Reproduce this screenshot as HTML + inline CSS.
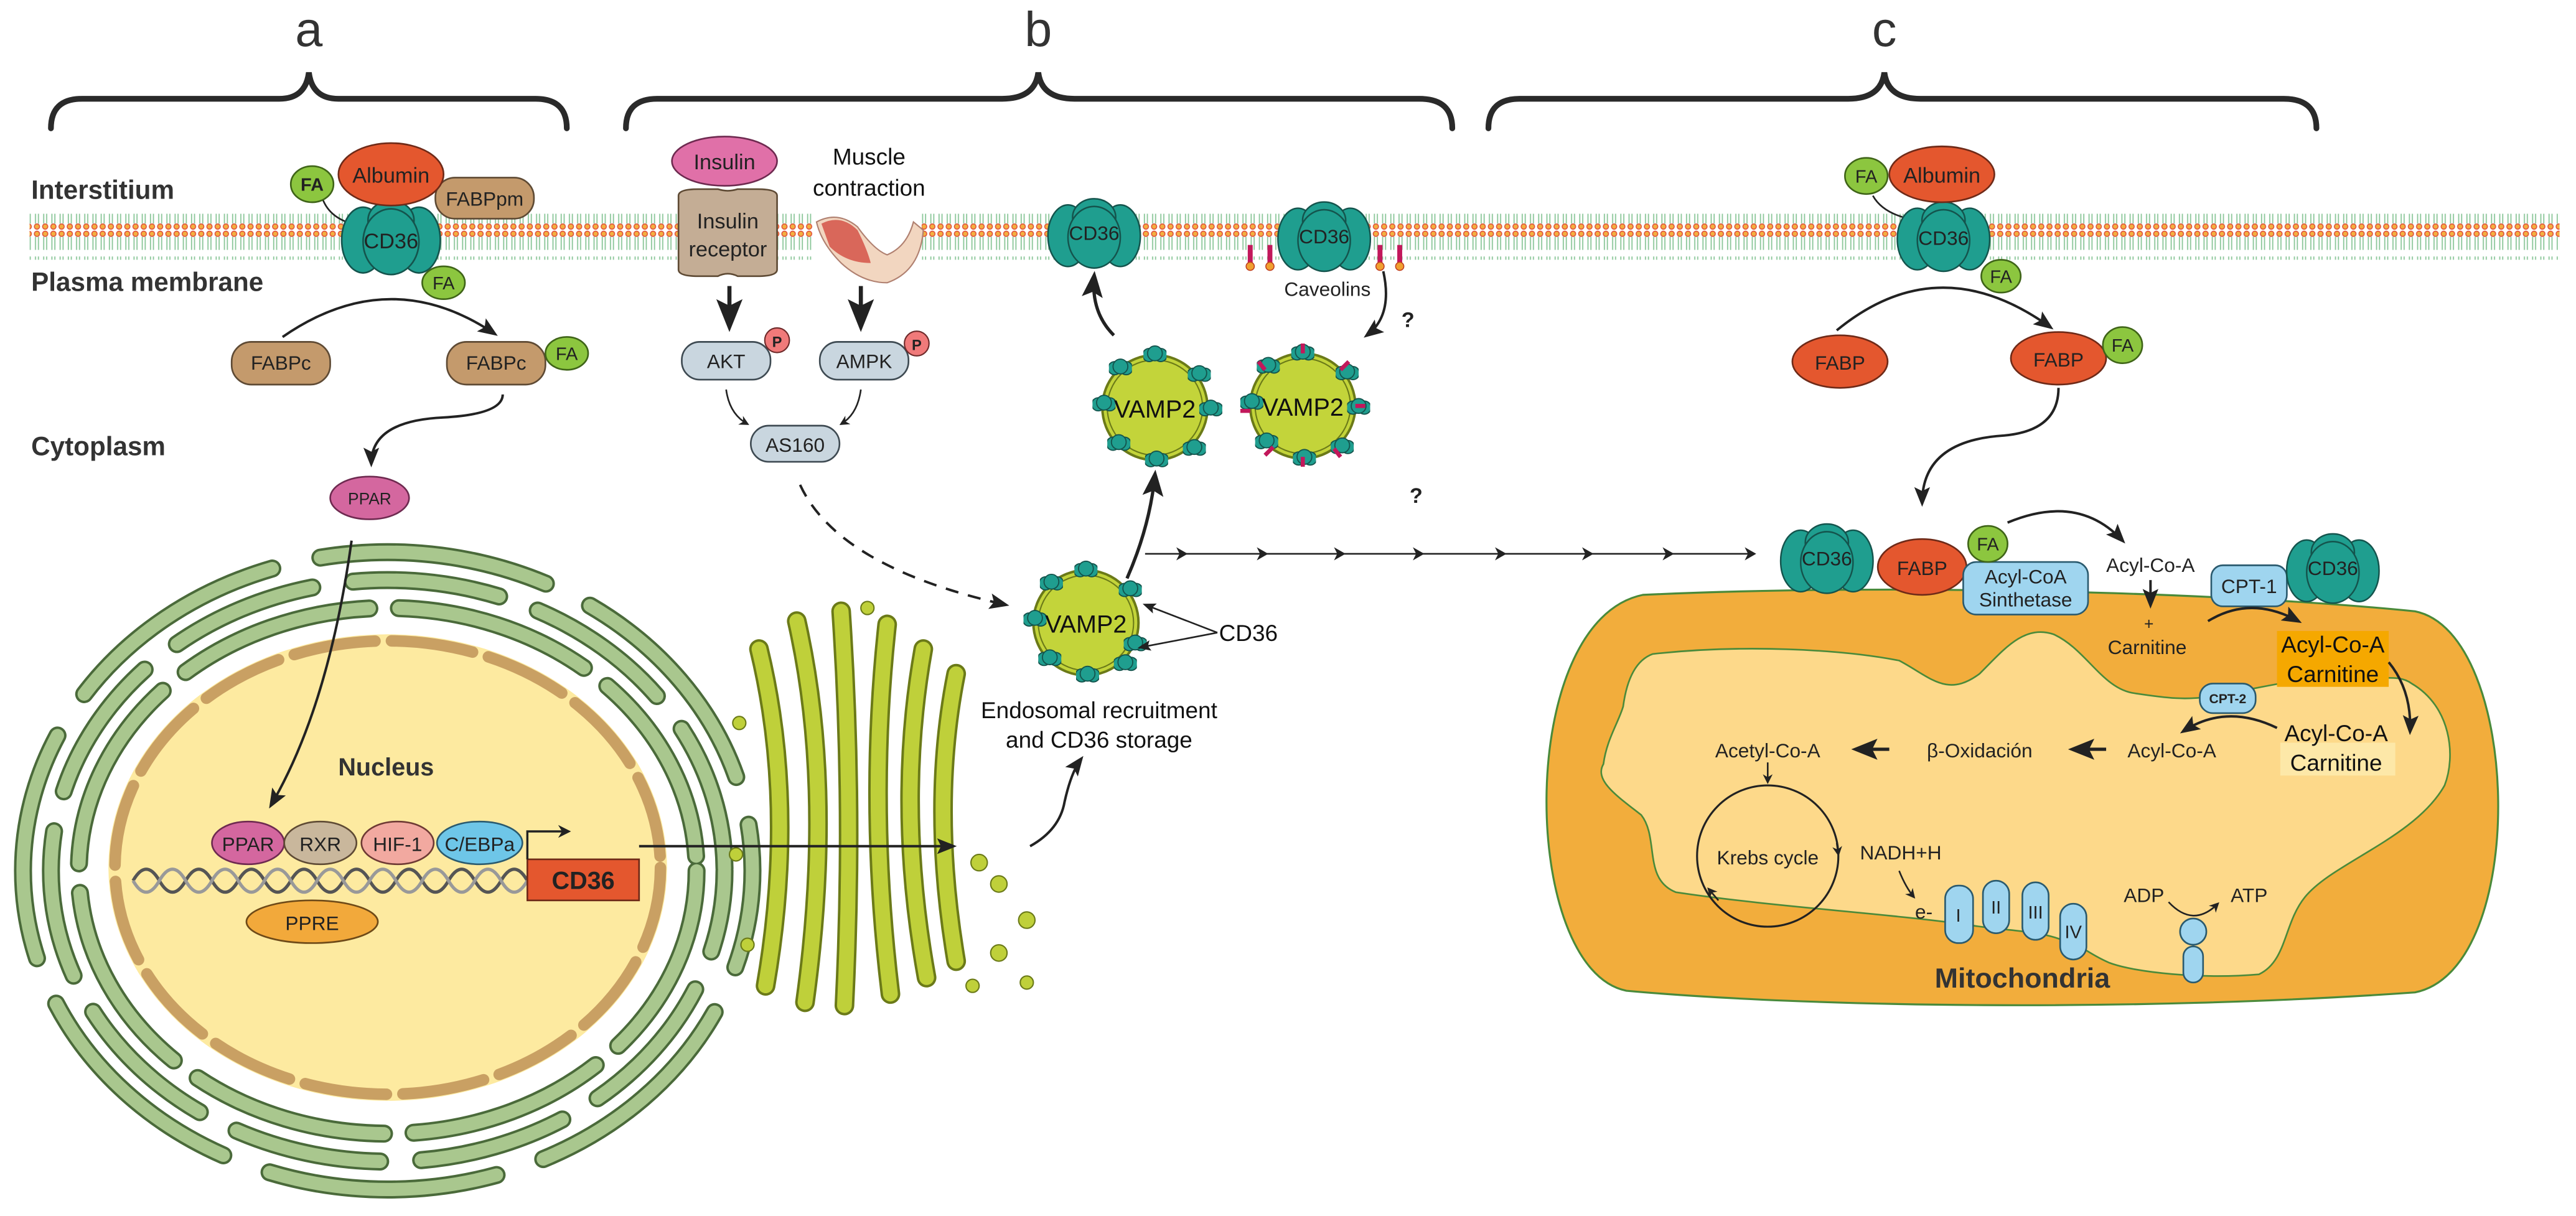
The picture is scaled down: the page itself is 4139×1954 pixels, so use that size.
<!DOCTYPE html>
<html><head><meta charset="utf-8"><style>
html,body{margin:0;padding:0;background:#fff;}
svg{display:block;}
text{font-family:"Liberation Sans",sans-serif;}
</style></head><body>
<svg width="4139" height="1954" viewBox="0 0 1568 740" xmlns="http://www.w3.org/2000/svg">
<defs>
<pattern id="mem" x="0" y="0" width="5" height="28" patternUnits="userSpaceOnUse">
<line x1="1.6" y1="4" x2="1.6" y2="12" stroke="#8cc79a" stroke-width="0.7"/>
<line x1="3.4" y1="4" x2="3.4" y2="12" stroke="#8cc79a" stroke-width="0.7"/>
<line x1="1.6" y1="16" x2="1.6" y2="24" stroke="#8cc79a" stroke-width="0.7"/>
<line x1="3.4" y1="16" x2="3.4" y2="24" stroke="#8cc79a" stroke-width="0.7"/>
<circle cx="2.5" cy="2.2" r="1.6" fill="#f3b040" stroke="#e0503a" stroke-width="0.6"/>
<circle cx="2.5" cy="25.8" r="1.6" fill="#f3b040" stroke="#e0503a" stroke-width="0.6"/>
</pattern>
<symbol id="cd36" viewBox="-32 -24 64 48">
<ellipse cx="-17" cy="2" rx="13" ry="20" fill="#1f9e8f" stroke="#14544d" stroke-width="1"/>
<ellipse cx="17" cy="2" rx="13" ry="20" fill="#1f9e8f" stroke="#14544d" stroke-width="1"/>
<ellipse cx="0" cy="-10" rx="14" ry="12" fill="#1f9e8f" stroke="#14544d" stroke-width="1"/>
<ellipse cx="0" cy="3" rx="17" ry="20" fill="#1f9e8f" stroke="#14544d" stroke-width="1"/>
</symbol>
<symbol id="bead" viewBox="-7 -6 14 12">
<circle cx="-3.5" cy="0" r="4" fill="#1f9e8f" stroke="#14544d" stroke-width="0.7"/>
<circle cx="3.5" cy="0" r="4" fill="#1f9e8f" stroke="#14544d" stroke-width="0.7"/>
<circle cx="0" cy="-1" r="4.5" fill="#1f9e8f" stroke="#14544d" stroke-width="0.7"/>
</symbol>
<marker id="ah" viewBox="0 0 10 10" refX="8" refY="5" markerWidth="6" markerHeight="6" orient="auto"><path d="M0,0 L10,5 L0,10 L3,5 Z" fill="#222"/></marker>
<marker id="ahs" viewBox="0 0 10 10" refX="8" refY="5" markerWidth="8" markerHeight="8" orient="auto"><path d="M0,1 L10,5 L0,9 L2,5 Z" fill="#222"/></marker>
</defs>

<!-- brackets -->
<g fill="none" stroke="#2a2a2a" stroke-width="3.5" stroke-linecap="round">
<path d="M31,78 Q31,60 50,60 L170,60 Q186,60 188,44 Q190,60 206,60 L326,60 Q345,60 345,78"/>
<path d="M381,78 Q381,60 400,60 L610,60 Q630,60 632,44 Q634,60 654,60 L864,60 Q884,60 884,78"/>
<path d="M906,78 Q906,60 925,60 L1125,60 Q1145,60 1147,44 Q1149,60 1169,60 L1390,60 Q1410,60 1410,78"/>
</g>
<text x="188" y="28" font-size="30" text-anchor="middle" fill="#333">a</text>
<text x="632" y="28" font-size="30" text-anchor="middle" fill="#333">b</text>
<text x="1147" y="28" font-size="30" text-anchor="middle" fill="#333">c</text>

<!-- membrane -->
<rect x="18" y="130" width="477" height="28" fill="url(#mem)"/>
<rect x="561" y="130" width="997" height="28" fill="url(#mem)"/>

<text x="19" y="121" font-size="16" font-weight="bold" fill="#333">Interstitium</text>
<text x="19" y="177" font-size="16" font-weight="bold" fill="#333">Plasma membrane</text>
<text x="19" y="277" font-size="16" font-weight="bold" fill="#333">Cytoplasm</text>

<!-- section a -->
<path d="M196,120 Q200,132 214,136" fill="none" stroke="#222" stroke-width="1"/>
<use href="#cd36" x="206" y="120" width="64" height="48"/>
<text x="238" y="151" font-size="13" text-anchor="middle" fill="#222">CD36</text>
<rect x="265" y="108" width="60" height="25" rx="12" fill="#c49a6c" stroke="#5e4a34" stroke-width="1"/>
<text x="295" y="125" font-size="12" text-anchor="middle" fill="#222">FABPpm</text>
<ellipse cx="238" cy="106" rx="32" ry="19" fill="#e4572e" stroke="#6e2a18" stroke-width="1"/>
<text x="238" y="111" font-size="13" text-anchor="middle" fill="#222">Albumin</text>
<ellipse cx="190" cy="112" rx="13" ry="11" fill="#8cc63f" stroke="#3f6418" stroke-width="1"/>
<text x="190" y="116" font-size="11" font-weight="bold" text-anchor="middle" fill="#222">FA</text>
<ellipse cx="270" cy="172" rx="13" ry="10" fill="#8cc63f" stroke="#3f6418" stroke-width="1"/>
<text x="270" y="176" font-size="11" text-anchor="middle" fill="#222">FA</text>
<path d="M172,205 Q237,160 301,203" fill="none" stroke="#222" stroke-width="1.5" marker-end="url(#ahs)"/>
<rect x="141" y="208" width="60" height="26" rx="12" fill="#c49a6c" stroke="#5e4a34" stroke-width="1"/>
<text x="171" y="225" font-size="12" text-anchor="middle" fill="#222">FABPc</text>
<rect x="272" y="208" width="60" height="26" rx="12" fill="#c49a6c" stroke="#5e4a34" stroke-width="1"/>
<text x="302" y="225" font-size="12" text-anchor="middle" fill="#222">FABPc</text>
<ellipse cx="345" cy="215" rx="13" ry="10" fill="#8cc63f" stroke="#3f6418" stroke-width="1"/>
<text x="345" y="219" font-size="11" text-anchor="middle" fill="#222">FA</text>
<path d="M306,240 Q306,252 270,254 Q226,256 226,282" fill="none" stroke="#222" stroke-width="1.5" marker-end="url(#ahs)"/>
<ellipse cx="225" cy="303" rx="24" ry="13" fill="#d4679f" stroke="#6e2a50" stroke-width="1"/>
<text x="225" y="307" font-size="10" text-anchor="middle" fill="#222">PPAR</text>

<!-- ER -->
<g fill="none" stroke-linecap="round">
<g stroke="#4a6a3a" stroke-width="11">
<ellipse cx="236" cy="530" rx="188" ry="160" stroke-dasharray="120 18"/>
<ellipse cx="236" cy="530" rx="205" ry="177" stroke-dasharray="90 25" stroke-dashoffset="40"/>
<ellipse cx="236" cy="530" rx="222" ry="194" stroke-dasharray="140 30" stroke-dashoffset="80"/>
</g>
<g stroke="#a9c78e" stroke-width="8">
<ellipse cx="236" cy="530" rx="188" ry="160" stroke-dasharray="120 18"/>
<ellipse cx="236" cy="530" rx="205" ry="177" stroke-dasharray="90 25" stroke-dashoffset="40"/>
<ellipse cx="236" cy="530" rx="222" ry="194" stroke-dasharray="140 30" stroke-dashoffset="80"/>
</g>
</g>
<!-- nucleus -->
<ellipse cx="236" cy="528" rx="170" ry="142" fill="#fdeaa0"/>
<ellipse cx="236" cy="528" rx="166" ry="138" fill="none" stroke="#c9a063" stroke-width="7" stroke-dasharray="50 10" stroke-linecap="round"/>
<text x="235" y="472" font-size="15" font-weight="bold" text-anchor="middle" fill="#333">Nucleus</text>
<path d="M214,329 Q200,430 165,490" fill="none" stroke="#222" stroke-width="1.5" marker-end="url(#ahs)"/>
<path d="M81,536 q8,-14 16,0 t16,0 t16,0 t16,0 t16,0 t16,0 t16,0 t16,0 t16,0 t16,0 t16,0 t16,0 t16,0 t16,0 t16,0" fill="none" stroke="#555" stroke-width="2"/>
<path d="M81,536 q8,14 16,0 t16,0 t16,0 t16,0 t16,0 t16,0 t16,0 t16,0 t16,0 t16,0 t16,0 t16,0 t16,0 t16,0 t16,0" fill="none" stroke="#999" stroke-width="2"/>
<ellipse cx="151" cy="513" rx="22" ry="13" fill="#d4679f" stroke="#6e2a50" stroke-width="1"/>
<text x="151" y="518" font-size="12" text-anchor="middle" fill="#222">PPAR</text>
<ellipse cx="195" cy="513" rx="22" ry="13" fill="#c9b79c" stroke="#5e4a34" stroke-width="1"/>
<text x="195" y="518" font-size="12" text-anchor="middle" fill="#222">RXR</text>
<ellipse cx="242" cy="513" rx="22" ry="13" fill="#f2a9a0" stroke="#6e3a34" stroke-width="1"/>
<text x="242" y="518" font-size="12" text-anchor="middle" fill="#222">HIF-1</text>
<ellipse cx="292" cy="513" rx="26" ry="13" fill="#6ec6e8" stroke="#2a5a6e" stroke-width="1"/>
<text x="292" y="518" font-size="12" text-anchor="middle" fill="#222">C/EBPa</text>
<ellipse cx="190" cy="561" rx="40" ry="13" fill="#f2a93b" stroke="#6e4a18" stroke-width="1"/>
<text x="190" y="566" font-size="12" text-anchor="middle" fill="#222">PPRE</text>
<rect x="321" y="523" width="68" height="25" fill="#e4572e" stroke="#6e2a18" stroke-width="1"/>
<text x="355" y="541" font-size="15" font-weight="bold" text-anchor="middle" fill="#222">CD36</text>
<path d="M321,523 L321,506 L346,506" fill="none" stroke="#222" stroke-width="1.3" marker-end="url(#ah)"/>

<!-- Golgi -->
<g fill="none" stroke-linecap="round">
<g stroke="#6b7a18" stroke-width="12">
<path d="M462,395 Q485,490 466,600"/><path d="M485,378 Q508,480 490,610"/><path d="M512,372 Q520,490 514,612"/><path d="M540,380 Q528,490 542,605"/><path d="M562,395 Q545,490 564,595"/><path d="M582,410 Q566,490 582,585"/>
</g>
<g stroke="#bfd03a" stroke-width="9">
<path d="M462,395 Q485,490 466,600"/><path d="M485,378 Q508,480 490,610"/><path d="M512,372 Q520,490 514,612"/><path d="M540,380 Q528,490 542,605"/><path d="M562,395 Q545,490 564,595"/><path d="M582,410 Q566,490 582,585"/>
</g>
</g>
<g fill="#bfd03a" stroke="#6b7a18" stroke-width="0.8">
<circle cx="528" cy="370" r="4"/><circle cx="450" cy="440" r="4"/><circle cx="448" cy="520" r="4"/><circle cx="455" cy="575" r="4"/><circle cx="596" cy="525" r="5"/><circle cx="608" cy="538" r="5"/><circle cx="625" cy="560" r="5"/><circle cx="608" cy="580" r="5"/><circle cx="592" cy="600" r="4"/><circle cx="625" cy="598" r="4"/>
</g>
<line x1="389" y1="515" x2="580" y2="515" stroke="#222" stroke-width="1.5" marker-end="url(#ahs)"/>
<path d="M627,515 Q645,505 648,488 Q652,470 658,462" fill="none" stroke="#222" stroke-width="1.5" marker-end="url(#ahs)"/>

<!-- section b -->
<path d="M413,119 Q413,115 425,115 L437,115 Q443,117 449,115 L461,115 Q473,115 473,119 L473,164 Q473,168 461,168 L449,168 Q443,165 437,168 L425,168 Q413,168 413,164 Z" fill="#c4ad95" stroke="#5e4a34" stroke-width="1"/>
<text x="443" y="139" font-size="13" text-anchor="middle" fill="#222">Insulin</text>
<text x="443" y="156" font-size="13" text-anchor="middle" fill="#222">receptor</text>
<ellipse cx="441" cy="98" rx="32" ry="15" fill="#e070a8" stroke="#6e2a50" stroke-width="1"/>
<text x="441" y="103" font-size="13" text-anchor="middle" fill="#222">Insulin</text>
<text x="529" y="100" font-size="14" text-anchor="middle" fill="#111">Muscle</text>
<text x="529" y="119" font-size="14" text-anchor="middle" fill="#111">contraction</text>
<path d="M497,135 Q510,128 522,138 Q532,152 540,155 Q552,150 556,135 L562,140 Q560,165 540,172 Q525,172 512,160 Q500,148 497,135 Z" fill="#f2d6c0" stroke="#b08070" stroke-width="0.8"/>
<path d="M500,136 Q512,130 522,140 Q528,152 530,160 Q515,160 505,150 Z" fill="#d9675a"/>
<line x1="444" y1="174" x2="444" y2="198" stroke="#222" stroke-width="2.5" marker-end="url(#ahs)"/>
<line x1="524" y1="174" x2="524" y2="198" stroke="#222" stroke-width="2.5" marker-end="url(#ahs)"/>
<rect x="415" y="208" width="54" height="23" rx="11" fill="#c9d6df" stroke="#3e4a52" stroke-width="1"/>
<text x="442" y="224" font-size="12" text-anchor="middle" fill="#222">AKT</text>
<circle cx="473" cy="207" r="7.5" fill="#f07a7a" stroke="#6e2a2a" stroke-width="0.8"/>
<text x="473" y="211" font-size="9" font-weight="bold" text-anchor="middle" fill="#222">P</text>
<rect x="499" y="208" width="54" height="23" rx="11" fill="#c9d6df" stroke="#3e4a52" stroke-width="1"/>
<text x="526" y="224" font-size="12" text-anchor="middle" fill="#222">AMPK</text>
<circle cx="558" cy="209" r="7.5" fill="#f07a7a" stroke="#6e2a2a" stroke-width="0.8"/>
<text x="558" y="213" font-size="9" font-weight="bold" text-anchor="middle" fill="#222">P</text>
<path d="M442,237 Q444,252 455,258" fill="none" stroke="#222" stroke-width="1" marker-end="url(#ah)"/>
<path d="M524,237 Q522,252 512,258" fill="none" stroke="#222" stroke-width="1" marker-end="url(#ah)"/>
<rect x="457" y="259" width="54" height="22" rx="11" fill="#c9d6df" stroke="#3e4a52" stroke-width="1"/>
<text x="484" y="275" font-size="12" text-anchor="middle" fill="#222">AS160</text>
<path d="M487,295 Q510,345 612,368" fill="none" stroke="#222" stroke-width="1.5" stroke-dasharray="8 6" marker-end="url(#ahs)"/>

<!-- membrane CD36 b -->
<use href="#cd36" x="636" y="119" width="60" height="45"/>
<text x="666" y="146" font-size="12" text-anchor="middle" fill="#222">CD36</text>
<use href="#cd36" x="776" y="121" width="60" height="45"/>
<text x="806" y="148" font-size="12" text-anchor="middle" fill="#222">CD36</text>
<g stroke="#c2185b" stroke-width="3"><line x1="761" y1="149" x2="761" y2="160"/><line x1="773" y1="149" x2="773" y2="160"/><line x1="840" y1="149" x2="840" y2="160"/><line x1="852" y1="149" x2="852" y2="160"/></g>
<g fill="#f0a030" stroke="#c04020" stroke-width="0.6"><circle cx="761" cy="162" r="2.5"/><circle cx="773" cy="162" r="2.5"/><circle cx="840" cy="162" r="2.5"/><circle cx="852" cy="162" r="2.5"/></g>
<text x="808" y="180" font-size="12" text-anchor="middle" fill="#222">Caveolins</text>
<path d="M842,165 Q848,192 832,204" fill="none" stroke="#222" stroke-width="1.5" marker-end="url(#ahs)"/>
<text x="857" y="199" font-size="13" font-weight="bold" text-anchor="middle" fill="#222">?</text>
<text x="862" y="306" font-size="13" font-weight="bold" text-anchor="middle" fill="#222">?</text>

<!-- vesicles -->
<circle cx="703" cy="248" r="32" fill="#c3d43a" stroke="#6b7a18" stroke-width="1.5"/>
<circle cx="703" cy="248" r="29" fill="none" stroke="#6b7a18" stroke-width="0.8"/>
<use href="#bead" x="696" y="210" width="14" height="12"/><use href="#bead" x="723" y="222" width="14" height="12"/><use href="#bead" x="730" y="243" width="14" height="12"/><use href="#bead" x="720" y="267" width="14" height="12"/><use href="#bead" x="697" y="274" width="14" height="12"/><use href="#bead" x="674" y="264" width="14" height="12"/><use href="#bead" x="665" y="240" width="14" height="12"/><use href="#bead" x="675" y="218" width="14" height="12"/>
<text x="703" y="254" font-size="15" text-anchor="middle" fill="#111">VAMP2</text>

<circle cx="793" cy="247" r="32" fill="#c3d43a" stroke="#6b7a18" stroke-width="1.5"/>
<circle cx="793" cy="247" r="29" fill="none" stroke="#6b7a18" stroke-width="0.8"/>
<use href="#bead" x="786" y="209" width="14" height="12"/><use href="#bead" x="813" y="221" width="14" height="12"/><use href="#bead" x="820" y="242" width="14" height="12"/><use href="#bead" x="810" y="266" width="14" height="12"/><use href="#bead" x="787" y="273" width="14" height="12"/><use href="#bead" x="764" y="263" width="14" height="12"/><use href="#bead" x="755" y="239" width="14" height="12"/><use href="#bead" x="765" y="217" width="14" height="12"/>
<g stroke="#c2185b" stroke-width="2.5"><line x1="770" y1="225" x2="766" y2="220"/><line x1="816" y1="225" x2="821" y2="220"/><line x1="825" y1="247" x2="831" y2="247"/><line x1="812" y1="273" x2="816" y2="278"/><line x1="775" y1="272" x2="770" y2="277"/><line x1="761" y1="250" x2="755" y2="250"/><line x1="793" y1="278" x2="793" y2="284"/><line x1="793" y1="215" x2="793" y2="209"/></g>
<text x="793" y="253" font-size="15" text-anchor="middle" fill="#111">VAMP2</text>

<circle cx="661" cy="379" r="32" fill="#c3d43a" stroke="#6b7a18" stroke-width="1.5"/>
<circle cx="661" cy="379" r="29" fill="none" stroke="#6b7a18" stroke-width="0.8"/>
<use href="#bead" x="654" y="341" width="14" height="12"/><use href="#bead" x="681" y="353" width="14" height="12"/><use href="#bead" x="684" y="386" width="14" height="12"/><use href="#bead" x="678" y="398" width="14" height="12"/><use href="#bead" x="655" y="405" width="14" height="12"/><use href="#bead" x="632" y="395" width="14" height="12"/><use href="#bead" x="623" y="371" width="14" height="12"/><use href="#bead" x="633" y="349" width="14" height="12"/>
<text x="661" y="385" font-size="15" text-anchor="middle" fill="#111">VAMP2</text>
<text x="742" y="390" font-size="14" fill="#111">CD36</text>
<line x1="741" y1="385" x2="697" y2="368" stroke="#222" stroke-width="1" marker-end="url(#ahs)"/>
<line x1="741" y1="385" x2="694" y2="394" stroke="#222" stroke-width="1" marker-end="url(#ahs)"/>
<text x="669" y="437" font-size="14" text-anchor="middle" fill="#111">Endosomal recruitment</text>
<text x="669" y="455" font-size="14" text-anchor="middle" fill="#111">and CD36 storage</text>
<path d="M686,352 Q700,320 703,289" fill="none" stroke="#222" stroke-width="2" marker-end="url(#ahs)"/>
<path d="M678,204 Q664,190 666,168" fill="none" stroke="#222" stroke-width="2" marker-end="url(#ahs)"/>

<!-- chained arrow -->
<line x1="697" y1="337" x2="1068" y2="337" stroke="#222" stroke-width="1"/>
<g fill="#222">
<path d="M716,333 L723,337 L716,341 L718,337Z"/><path d="M765,333 L772,337 L765,341 L767,337Z"/><path d="M812,333 L819,337 L812,341 L814,337Z"/><path d="M860,333 L867,337 L860,341 L862,337Z"/><path d="M910,333 L917,337 L910,341 L912,337Z"/><path d="M963,333 L970,337 L963,341 L965,337Z"/><path d="M1012,333 L1019,337 L1012,341 L1014,337Z"/><path d="M1062,333 L1069,337 L1062,341 L1064,337Z"/>
</g>

<!-- section c top -->
<path d="M1140,119 Q1145,128 1158,132" fill="none" stroke="#222" stroke-width="1"/>
<use href="#cd36" x="1152" y="121" width="62" height="45"/>
<text x="1183" y="149" font-size="12" text-anchor="middle" fill="#222">CD36</text>
<ellipse cx="1182" cy="106" rx="32" ry="17" fill="#e4572e" stroke="#6e2a18" stroke-width="1"/>
<text x="1182" y="111" font-size="13" text-anchor="middle" fill="#222">Albumin</text>
<ellipse cx="1136" cy="107" rx="13" ry="11" fill="#8cc63f" stroke="#3f6418" stroke-width="1"/>
<text x="1136" y="111" font-size="11" text-anchor="middle" fill="#222">FA</text>
<ellipse cx="1218" cy="168" rx="12" ry="10" fill="#8cc63f" stroke="#3f6418" stroke-width="1"/>
<text x="1218" y="172" font-size="11" text-anchor="middle" fill="#222">FA</text>
<path d="M1118,201 Q1180,150 1248,199" fill="none" stroke="#222" stroke-width="1.5" marker-end="url(#ahs)"/>
<ellipse cx="1120" cy="220" rx="29" ry="16" fill="#e4572e" stroke="#6e2a18" stroke-width="1"/>
<text x="1120" y="225" font-size="12" text-anchor="middle" fill="#222">FABP</text>
<ellipse cx="1253" cy="218" rx="29" ry="16" fill="#e4572e" stroke="#6e2a18" stroke-width="1"/>
<text x="1253" y="223" font-size="12" text-anchor="middle" fill="#222">FABP</text>
<ellipse cx="1292" cy="210" rx="12" ry="11" fill="#8cc63f" stroke="#3f6418" stroke-width="1"/>
<text x="1292" y="214" font-size="11" text-anchor="middle" fill="#222">FA</text>
<path d="M1253,236 Q1253,262 1220,265 Q1170,268 1170,306" fill="none" stroke="#222" stroke-width="1.5" marker-end="url(#ahs)"/>

<!-- mitochondria -->
<path d="M1000,362 C1150,355 1350,360 1470,372 C1535,385 1540,590 1470,604 C1300,616 1100,613 990,603 C925,590 922,378 1000,362 Z" fill="#f2ad3c" stroke="#4a8a3a" stroke-width="1.2"/>
<path d="M1006,398 C1060,392 1120,395 1156,402 C1175,412 1185,425 1205,410 C1220,395 1232,380 1250,386 C1270,395 1280,420 1300,422 C1320,425 1330,426 1345,424 C1380,418 1410,410 1430,412 C1450,414 1460,410 1468,416 C1492,430 1495,460 1488,478 C1470,510 1420,525 1403,546 C1390,562 1392,585 1375,593 C1340,596 1300,592 1284,586 C1270,580 1266,574 1255,572 C1240,566 1215,566 1199,563 C1150,556 1080,552 1020,543 C1000,535 1010,510 999,496 C985,485 970,475 976,465 C978,450 985,440 988,430 C990,415 995,402 1006,398 Z" fill="#fdd98a" stroke="#4a8a3a" stroke-width="1"/>

<use href="#cd36" x="1082" y="317" width="60" height="45"/>
<text x="1112" y="344" font-size="12" text-anchor="middle" fill="#222">CD36</text>
<ellipse cx="1170" cy="345" rx="27" ry="17" fill="#e4572e" stroke="#6e2a18" stroke-width="1"/>
<text x="1170" y="350" font-size="12" text-anchor="middle" fill="#222">FABP</text>
<rect x="1195" y="342" width="76" height="32" rx="8" fill="#9fd5ef" stroke="#2a5a6e" stroke-width="1"/>
<text x="1233" y="355" font-size="12" text-anchor="middle" fill="#222">Acyl-CoA</text>
<text x="1233" y="369" font-size="12" text-anchor="middle" fill="#222">Sinthetase</text>
<ellipse cx="1210" cy="331" rx="12" ry="11" fill="#8cc63f" stroke="#3f6418" stroke-width="1"/>
<text x="1210" y="335" font-size="11" text-anchor="middle" fill="#222">FA</text>
<path d="M1222,318 Q1265,300 1292,329" fill="none" stroke="#222" stroke-width="1.5" marker-end="url(#ahs)"/>
<text x="1309" y="348" font-size="12" text-anchor="middle" fill="#222">Acyl-Co-A</text>
<line x1="1309" y1="353" x2="1309" y2="368" stroke="#222" stroke-width="1.5" marker-end="url(#ahs)"/>
<text x="1308" y="383" font-size="10" text-anchor="middle" fill="#222">+</text>
<text x="1307" y="398" font-size="12" text-anchor="middle" fill="#222">Carnitine</text>
<rect x="1346" y="344" width="46" height="25" rx="7" fill="#9fd5ef" stroke="#2a5a6e" stroke-width="1"/>
<text x="1369" y="361" font-size="12" text-anchor="middle" fill="#222">CPT-1</text>
<use href="#cd36" x="1390" y="323" width="60" height="45"/>
<text x="1420" y="350" font-size="12" text-anchor="middle" fill="#222">CD36</text>
<path d="M1344,378 Q1370,362 1399,378" fill="none" stroke="#222" stroke-width="1.5" marker-end="url(#ahs)"/>
<rect x="1386" y="384" width="68" height="34" fill="#f5a800"/>
<text x="1420" y="397" font-size="14" text-anchor="middle" fill="#111">Acyl-Co-A</text>
<text x="1420" y="415" font-size="14" text-anchor="middle" fill="#111">Carnitine</text>
<path d="M1454,403 Q1468,420 1467,445" fill="none" stroke="#222" stroke-width="1.5" marker-end="url(#ahs)"/>
<rect x="1388" y="452" width="70" height="20" fill="#fde8a8"/>
<text x="1422" y="451" font-size="14" text-anchor="middle" fill="#111">Acyl-Co-A</text>
<text x="1422" y="469" font-size="14" text-anchor="middle" fill="#111">Carnitine</text>
<rect x="1339" y="416" width="34" height="18" rx="8" fill="#9fd5ef" stroke="#2a5a6e" stroke-width="1"/>
<text x="1356" y="428" font-size="8" font-weight="bold" text-anchor="middle" fill="#222">CPT-2</text>
<path d="M1386,443 Q1355,428 1329,445" fill="none" stroke="#222" stroke-width="1.5" marker-end="url(#ahs)"/>
<text x="1322" y="461" font-size="12" text-anchor="middle" fill="#222">Acyl-Co-A</text>
<text x="1205" y="461" font-size="12" text-anchor="middle" fill="#222">β-Oxidación</text>
<text x="1076" y="461" font-size="12" text-anchor="middle" fill="#222">Acetyl-Co-A</text>
<line x1="1282" y1="456" x2="1262" y2="456" stroke="#222" stroke-width="2" marker-end="url(#ahs)"/>
<line x1="1150" y1="456" x2="1130" y2="456" stroke="#222" stroke-width="2" marker-end="url(#ahs)"/>
<line x1="1076" y1="464" x2="1076" y2="476" stroke="#222" stroke-width="1" marker-end="url(#ah)"/>
<circle cx="1076" cy="521" r="43" fill="none" stroke="#222" stroke-width="1.2"/>
<path d="M1118,513 L1119,520" stroke="#222" stroke-width="1" marker-end="url(#ah)"/>
<path d="M1046,548 L1040,541" stroke="#222" stroke-width="1" marker-end="url(#ah)"/>
<text x="1076" y="526" font-size="12" text-anchor="middle" fill="#222">Krebs cycle</text>
<text x="1157" y="523" font-size="12" text-anchor="middle" fill="#222">NADH+H</text>
<path d="M1156,530 Q1160,540 1165,546" fill="none" stroke="#222" stroke-width="1" marker-end="url(#ah)"/>
<text x="1171" y="559" font-size="12" text-anchor="middle" fill="#222">e-</text>
<g fill="#9fd5ef" stroke="#2a5a6e" stroke-width="1">
<rect x="1184" y="539" width="17" height="35" rx="8"/><rect x="1207" y="536" width="16" height="32" rx="8"/><rect x="1231" y="537" width="16" height="35" rx="8"/><rect x="1254" y="550" width="16" height="34" rx="8"/>
<circle cx="1335" cy="567" r="8"/><rect x="1329" y="576" width="12" height="22" rx="6"/>
</g>
<g font-family="Liberation Serif,serif" font-size="11" text-anchor="middle" fill="#222">
<text x="1192" y="561">I</text><text x="1215" y="556">II</text><text x="1239" y="559">III</text><text x="1262" y="571">IV</text>
</g>
<text x="1305" y="549" font-size="12" text-anchor="middle" fill="#222">ADP</text>
<text x="1369" y="549" font-size="12" text-anchor="middle" fill="#222">ATP</text>
<path d="M1320,549 Q1335,565 1350,550" fill="none" stroke="#222" stroke-width="1" marker-end="url(#ah)"/>
<text x="1231" y="601" font-size="17" font-weight="bold" text-anchor="middle" fill="#333">Mitochondria</text>
</svg>
</body></html>
